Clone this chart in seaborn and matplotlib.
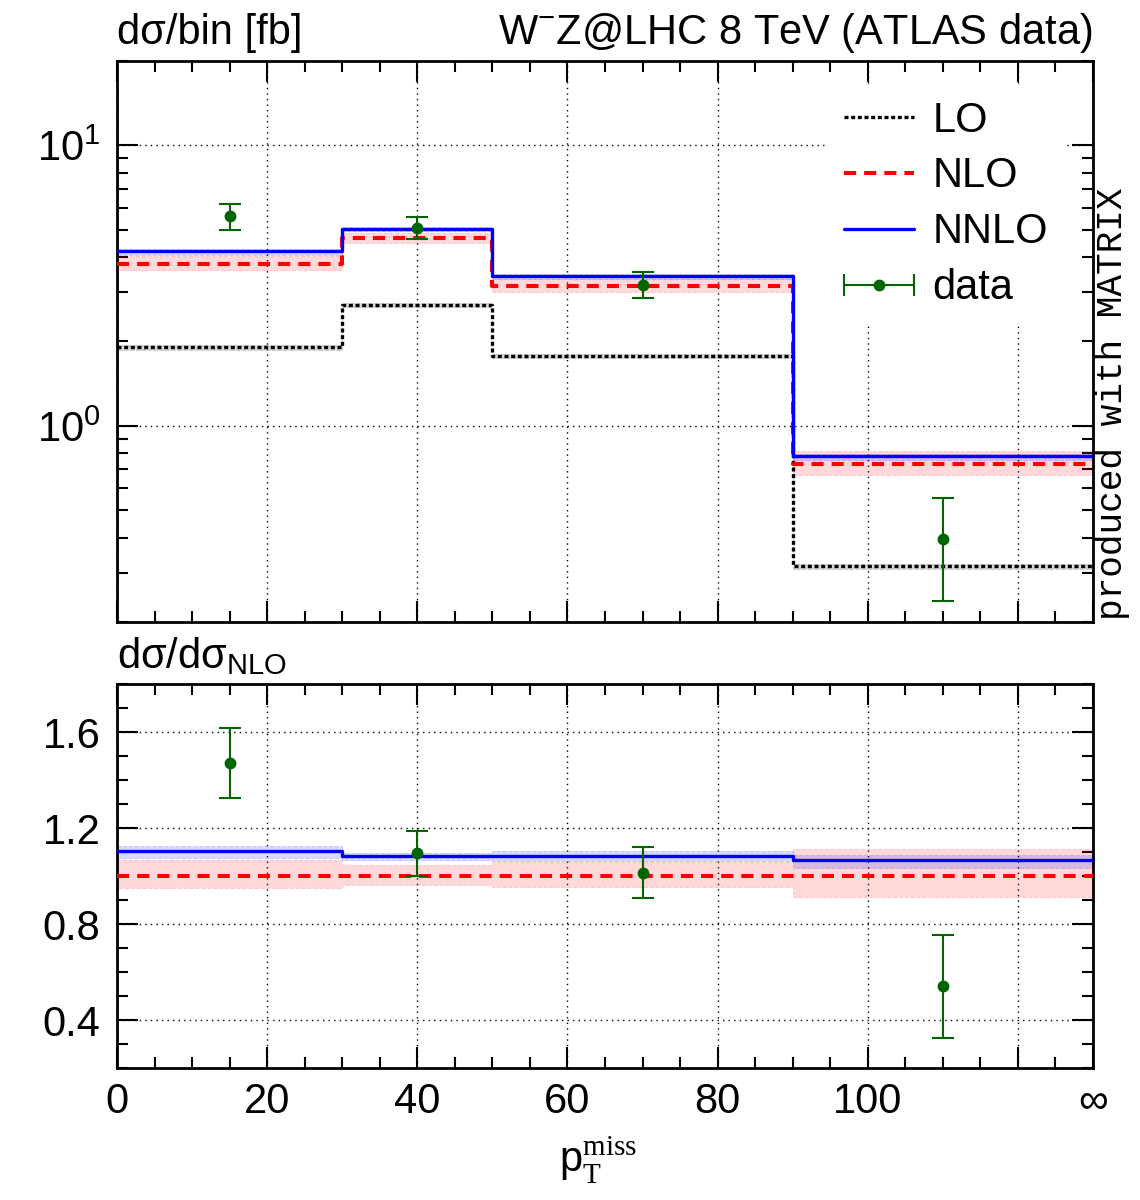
"""
W-Z @ LHC 8 TeV, pT miss distribution: LO / NLO / NNLO against ATLAS data
"""

# Importing libraries
import numpy as np
import seaborn as sns
import matplotlib
matplotlib.use("Agg")
import matplotlib.pyplot as plt
from matplotlib.lines import Line2D
from matplotlib.ticker import MultipleLocator, FixedLocator, NullFormatter
from matplotlib.legend_handler import HandlerErrorbar

# data
bin_edges = [0, 30, 50, 90, 130]   # last edge is the overflow bin (infinity)
bin_centres = [15, 40, 70, 110]
x_ticks = [0, 20, 40, 60, 80, 100, 120, 130]
x_ticklabels = ['0', '20', '40', '60', '80', '100', '', '\u221e']

# dsigma/bin [fb]
lo = [1.91, 2.70, 1.77, 0.316]
lo_low = [1.87, 2.65, 1.74, 0.310]
lo_high = [1.95, 2.75, 1.80, 0.322]
nlo = [3.79, 4.66, 3.15, 0.734]
nlo_low = [3.60, 4.49, 3.01, 0.671]
nlo_high = [4.04, 4.87, 3.33, 0.815]
nnlo = [4.19, 5.04, 3.41, 0.783]
nnlo_low = [4.08, 4.97, 3.35, 0.758]
nnlo_high = [4.26, 5.11, 3.48, 0.797]
atlas = [5.60, 5.09, 3.19, 0.396]
atlas_err = [0.59, 0.45, 0.34, 0.158]

# ratio to NLO
nlo_ratio = [1.0, 1.0, 1.0, 1.0]
nlo_ratio_low = [0.950, 0.963, 0.955, 0.914]
nlo_ratio_high = [1.065, 1.045, 1.058, 1.111]
nnlo_ratio = [1.103, 1.082, 1.083, 1.067]
nnlo_ratio_low = [1.077, 1.067, 1.063, 1.033]
nnlo_ratio_high = [1.125, 1.097, 1.106, 1.086]
atlas_ratio = [1.471, 1.095, 1.014, 0.540]
atlas_ratio_err = [0.147, 0.094, 0.106, 0.216]

# style
sns.set_style('ticks')
plt.rcParams['font.family'] = ['Liberation Sans', 'DejaVu Sans']
plt.rcParams['mathtext.fontset'] = 'custom'
plt.rcParams['mathtext.rm'] = 'Liberation Serif'
plt.rcParams['mathtext.sf'] = 'Liberation Sans'
plt.rcParams['mathtext.it'] = 'Liberation Sans:italic'
plt.rcParams['axes.linewidth'] = 2
for key in ['text.color', 'axes.labelcolor', 'axes.edgecolor', 'xtick.color', 'ytick.color']:
    plt.rcParams[key] = 'black'

FS = 30
green = '#006400'
lo_ls = (0, (1.2, 0.8))
nlo_ls = (0, (3, 2))


def steps(vals):
    # repeat last value so steps-post reaches the last edge
    return list(vals) + [vals[-1]]


def band(ax, low, high, color, alpha):
    ax.fill_between(bin_edges, steps(low), steps(high), step='post',
                    facecolor=color, alpha=alpha, edgecolor=color,
                    linestyle='--', linewidth=0.8, zorder=2)


def step_line(ax, vals, color, ls, lw):
    sns.lineplot(x=bin_edges, y=steps(vals), ax=ax, color=color, linestyle=ls,
                 linewidth=lw, drawstyle='steps-post', estimator=None, zorder=3)


def style_axis(ax):
    ax.set_xlim(0, 130)
    ax.xaxis.set_major_locator(FixedLocator(x_ticks))
    ax.xaxis.set_minor_locator(MultipleLocator(5))
    ax.tick_params(which='both', direction='in', top=True, right=True, width=1.5,
                   labelsize=FS, pad=12)
    ax.tick_params(which='major', length=15)
    ax.tick_params(which='minor', length=8)
    ax.grid(True, which='major', color='black', linestyle=(0, (1, 3)), linewidth=1)
    ax.set_xlabel('')
    ax.set_ylabel('')


fig = plt.figure(figsize=(11.4, 12), dpi=100)
ax1 = fig.add_axes([0.1026, 0.4817, 0.8562, 0.4675])
ax2 = fig.add_axes([0.1026, 0.11, 0.8562, 0.32])

# upper panel
band(ax1, lo_low, lo_high, 'grey', 0.3)
band(ax1, nlo_low, nlo_high, 'red', 0.15)
band(ax1, nnlo_low, nnlo_high, 'blue', 0.15)
step_line(ax1, lo, 'black', lo_ls, 2.4)
step_line(ax1, nlo, 'red', nlo_ls, 2.9)
step_line(ax1, nnlo, 'blue', '-', 2.4)
ax1.errorbar(bin_centres, atlas, yerr=atlas_err, fmt='o', color=green, ms=7.5,
             elinewidth=1.5, capsize=8, capthick=1.5, zorder=4)
ax1.set_yscale('log')
ax1.set_ylim(0.2, 20)
style_axis(ax1)
ax1.yaxis.set_minor_formatter(NullFormatter())
ax1.tick_params(labelbottom=False)

# legend, data entry drawn as horizontal errorbar
lo_h = Line2D([], [], color='black', linestyle=lo_ls, linewidth=2.4)
nlo_h = Line2D([], [], color='red', linestyle=nlo_ls, linewidth=2.9)
nnlo_h = Line2D([], [], color='blue', linewidth=2.4)
data_h = ax1.errorbar([np.nan], [np.nan], xerr=[1], fmt='o', color=green, ms=7.5,
                      elinewidth=1.5, capsize=8, capthick=1.5)
ax1.legend([lo_h, nlo_h, nnlo_h, data_h], ['LO', 'NLO', 'NNLO', 'data'],
           loc='upper left', bbox_to_anchor=(0.728, 0.959), frameon=True,
           fancybox=False, edgecolor='none', facecolor='white', framealpha=1,
           fontsize=FS, handlelength=1.67, handletextpad=0.45, labelspacing=0.38,
           borderpad=0.4, borderaxespad=0,
           handler_map={type(data_h): HandlerErrorbar(xerr_size=0.83)})

ax1.text(0, 1.03, 'd\u03c3/bin [fb]', transform=ax1.transAxes, fontsize=FS,
         ha='left', va='baseline')
ax1.text(1, 1.03, r'W$^{\mathdefault{-}}$Z@LHC 8 TeV (ATLAS data)',
         transform=ax1.transAxes, fontsize=FS, ha='right', va='baseline')
fig.text(1112 / 1140, 1 - 620 / 1200, 'produced with MATRIX', rotation=90,
         ha='center', va='bottom', fontsize=26, family=['Liberation Mono', 'DejaVu Sans Mono'])

# lower panel
band(ax2, nlo_ratio_low, nlo_ratio_high, 'red', 0.15)
band(ax2, nnlo_ratio_low, nnlo_ratio_high, 'blue', 0.15)
step_line(ax2, nlo_ratio, 'red', nlo_ls, 2.9)
step_line(ax2, nnlo_ratio, 'blue', '-', 2.4)
ax2.errorbar(bin_centres, atlas_ratio, yerr=atlas_ratio_err, fmt='o', color=green,
             ms=7.5, elinewidth=1.5, capsize=8, capthick=1.5, zorder=4)
ax2.set_ylim(0.2, 1.8)
style_axis(ax2)
ax2.yaxis.set_major_locator(FixedLocator([0.4, 0.8, 1.2, 1.6]))
ax2.yaxis.set_minor_locator(MultipleLocator(0.1))
ax2.set_xticklabels(x_ticklabels)
ax2.tick_params(axis='x', pad=10)

ax2.text(0, 1.042, 'd\u03c3/d\u03c3$_{\\mathdefault{NLO}}$',
         transform=ax2.transAxes, fontsize=FS, ha='left', va='baseline')
fig.text(0.525, 1 - 1172 / 1200, r'p$_{\mathrm{T}}^{\mathrm{miss}}$', fontsize=FS,
         ha='center', va='baseline')

plt.savefig('out.png', dpi=100)
